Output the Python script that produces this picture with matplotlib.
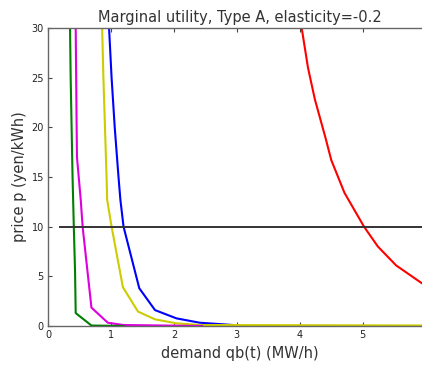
import matplotlib
matplotlib.use("Agg")
import matplotlib.pyplot as plt

# demand q (MW/h) vs price p (yen/kWh)
q_red = [4.03, 4.13, 4.24, 4.41, 4.50, 4.71, 5.02, 5.24, 5.53, 5.94, 6.1]
p_red = [30, 26, 22.8, 18.9, 16.7, 13.4, 10, 8.0, 6.1, 4.3, 4.0]

q_blue = [0.97, 1.01, 1.06, 1.12, 1.15, 1.20, 1.45, 1.70, 2.04, 2.41, 2.94]
p_blue = [30, 25, 20, 15, 12.7, 10, 3.8, 1.6, 0.77, 0.33, 0.1]

q_yel = [0.86, 0.88, 0.905, 0.93, 0.94, 1.01, 1.19, 1.43, 1.70, 2.04, 2.41, 6.1]
p_yel = [30, 25, 20, 15, 12.7, 10, 3.9, 1.45, 0.67, 0.27, 0.1, 0.05]

q_mag = [0.44, 0.455, 0.46, 0.52, 0.55, 0.69, 0.95, 1.20, 2.45]
p_mag = [30, 20, 17, 12.7, 10, 1.85, 0.33, 0.1, 0.0]

q_grn = [0.35, 0.36, 0.375, 0.39, 0.41, 0.43, 0.44, 0.69, 1.20]
p_grn = [30, 25, 20, 15, 10, 5.4, 1.3, 0.05, 0.0]

hline_p = 10
hline_q = [0.19, 6.1]

xticks = [0, 1, 2, 3, 4, 5]
yticks = [0, 5, 10, 15, 20, 25, 30]

fig = plt.figure(figsize=(4.22, 3.67), dpi=100)
# the axes run past the right edge of the picture, as in the reference
ax = fig.add_axes([48/422, 41/367, 384/422, 298/367])

ax.plot(q_red, p_red, color="#ff0000", lw=1.5)
ax.plot(q_blue, p_blue, color="#0000ff", lw=1.5)
ax.plot(q_yel, p_yel, color="#cccc00", lw=1.5)
ax.plot(q_mag, p_mag, color="#dd00dd", lw=1.5)
ax.plot(q_grn, p_grn, color="#007f00", lw=1.5)
ax.plot(hline_q, [hline_p, hline_p], color="#333333", lw=1.4)

ax.set_xlim(0, 6.1)
ax.set_ylim(0, 30)
ax.set_xticks(xticks)
ax.set_yticks(yticks)
tick_font = ["Liberation Sans Narrow", "DejaVu Sans Condensed", "DejaVu Sans"]
for lab in ax.get_xticklabels() + ax.get_yticklabels():
    lab.set_family(tick_font)
    lab.set_fontsize(7)
ax.tick_params(direction="in", top=True, right=True, length=3,
               color="#444444", labelcolor="#222222", pad=3)
for s in ax.spines.values():
    s.set_color("#666666")
    s.set_linewidth(1)

ax.set_title("Marginal utility, Type A, elasticity=-0.2", fontsize=10.5,
             color="#333333", pad=4)
ax.set_xlabel("demand qb(t) (MW/h)", fontsize=10.5, color="#333333", labelpad=4)
ax.set_ylabel("price p (yen/kWh)", fontsize=10.5, color="#333333", labelpad=3)

fig.savefig("out.png", dpi=100)
